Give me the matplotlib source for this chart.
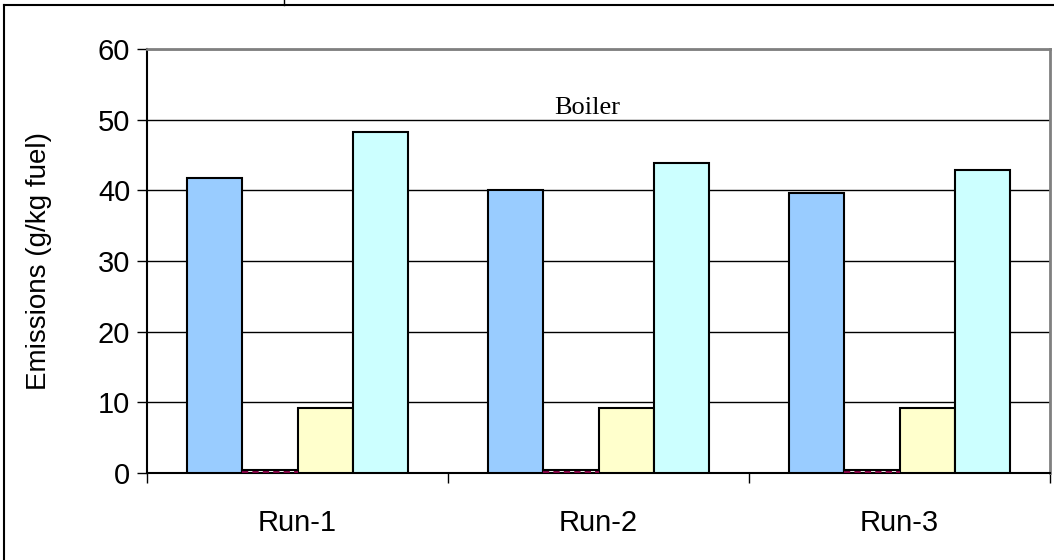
import matplotlib.pyplot as plt
import numpy as np
from matplotlib.lines import Line2D

# Data
runs = ['Run-1', 'Run-2', 'Run-3']
series_a = [41.8, 40.0, 39.6]
series_b = [0.4, 0.4, 0.4]
series_c = [9.2, 9.2, 9.2]
series_d = [48.2, 43.8, 42.9]

colors = ['#99CCFF', '#FFFFFF', '#FFFFCC', '#CCFFFF']

plt.rcParams['font.family'] = ['Liberation Sans', 'DejaVu Sans']

fig = plt.figure(figsize=(10.54, 5.6), dpi=100)
ax = fig.add_axes([147 / 1054, 1 - 473 / 560, 903 / 1054, 424 / 560])

x = np.arange(len(runs))
w = 0.183
offsets = [-1.5, -0.5, 0.5, 1.5]
for vals, off, c in zip([series_a, series_b, series_c, series_d], offsets, colors):
    bars = ax.bar(x + off * w, vals, w, color=c, edgecolor='black', linewidth=1.5, zorder=3)
    if c == '#FFFFFF':
        # dashed maroon base on the thin bars
        for b in bars:
            ax.plot([b.get_x(), b.get_x() + w], [0.15, 0.15], color='#800040',
                    linestyle=(0, (3, 2)), linewidth=1.5, zorder=4)

# Axes formatting
ax.set_xlim(-0.5, 2.5)
ax.set_ylim(0, 60)
ax.set_yticks(range(0, 61, 10))
ax.set_yticklabels([str(v) for v in range(0, 61, 10)], fontsize=21)
ax.set_xticks([-0.5, 0.5, 1.5, 2.5])
ax.set_xticklabels([])
ax.set_xticks(x, minor=True)
ax.set_xticklabels(runs, minor=True, fontsize=21)
ax.tick_params(axis='x', which='minor', length=0, pad=26)
ax.tick_params(axis='x', which='major', direction='out', length=7, width=1)
ax.tick_params(axis='y', direction='out', length=7, width=1, pad=5)
ax.set_ylabel('Emissions (g/kg fuel)', fontsize=20)
ax.yaxis.set_label_coords(-0.105, 0.5)

ax.yaxis.grid(True, color='black', linewidth=1, zorder=0)
ax.spines['top'].set_color('#808080')
ax.spines['right'].set_color('#808080')
ax.spines['top'].set_linewidth(2)
ax.spines['right'].set_linewidth(2)
ax.spines['left'].set_linewidth(1.5)
ax.spines['bottom'].set_linewidth(1.5)

ax.text(0.487, 0.86, 'Boiler', transform=ax.transAxes, ha='center', va='center',
        fontsize=19, family='Liberation Serif')

# Outer frame
fig.add_artist(Line2D([4 / 1054, 1], [1 - 5 / 560, 1 - 5 / 560], transform=fig.transFigure,
                      color='black', linewidth=1.5))
fig.add_artist(Line2D([4 / 1054, 4 / 1054], [0, 1 - 5 / 560], transform=fig.transFigure,
                      color='black', linewidth=1.5))
fig.add_artist(Line2D([284 / 1054, 284 / 1054], [1 - 5 / 560, 1], transform=fig.transFigure,
                      color='black', linewidth=1))

fig.savefig('out.png', dpi=100)
